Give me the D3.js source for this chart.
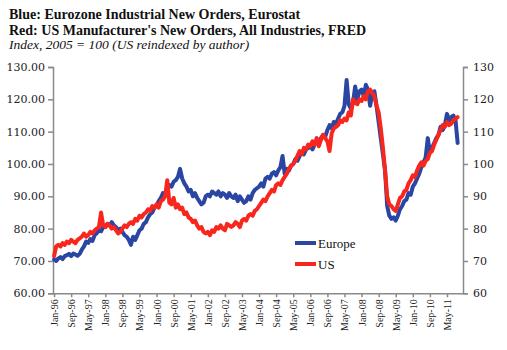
<!DOCTYPE html>
<html><head><meta charset="utf-8">
<script src="https://cdn.jsdelivr.net/npm/d3@7"></script>
<style>body{margin:0;background:#fff}svg{display:block}</style>
</head><body>
<script>
// Monthly data Jan-96 .. Oct-11
const startYear = 1996;
const europe = [
70.5,70.0,70.8,71.2,70.6,71.5,71.8,72.2,71.5,72.3,72.0,71.6,
72.2,73.5,74.5,76.0,75.6,76.8,76.2,78.0,78.6,79.5,79.2,80.5,
80.5,81.5,81.0,82.0,81.0,80.5,79.5,80.0,79.0,78.0,77.5,76.5,
75.0,77.5,76.5,78.0,79.5,80.0,81.5,82.0,83.5,84.5,85.0,86.5,
87.0,88.5,89.5,91.0,90.5,92.5,93.5,93.0,94.5,95.0,96.0,98.5,
95.5,94.0,93.0,91.5,92.0,90.0,91.0,89.5,88.5,87.5,88.0,90.0,
90.5,90.0,91.5,91.0,90.5,91.5,90.0,91.0,90.5,89.5,91.0,90.0,
89.5,90.5,88.5,90.0,89.0,88.0,88.5,90.0,89.0,91.0,92.0,92.5,
93.0,94.0,93.0,95.5,96.0,95.5,97.0,97.5,96.5,98.0,99.0,102.5,
97.0,98.5,98.0,99.5,100.0,101.5,101.0,102.5,103.5,103.0,104.5,105.0,
105.5,104.5,106.0,107.0,106.5,108.0,109.0,108.5,110.5,112.0,111.0,113.0,
112.5,114.0,115.5,116.0,118.0,126.0,118.5,117.0,119.0,124.0,120.0,122.5,
123.0,121.0,124.5,123.0,118.0,121.5,122.5,118.0,113.0,108.0,103.0,98.0,
87.0,84.0,83.0,83.5,82.5,84.0,86.0,87.0,88.5,89.0,91.0,90.5,
93.0,94.0,95.5,97.0,99.0,100.5,102.0,108.0,103.5,105.0,106.5,108.0,
109.0,111.5,110.5,112.0,115.5,113.5,114.5,115.0,113.5,106.5
];
const us = [
71.5,74.5,75.0,74.5,75.5,75.0,76.0,75.5,76.5,76.0,75.5,76.5,
77.0,77.5,78.5,77.5,78.0,79.0,78.5,79.5,80.0,80.5,85.0,81.0,
80.5,81.5,81.0,80.0,80.5,79.5,78.5,79.0,80.0,81.0,80.5,81.5,
82.0,81.5,83.0,82.5,84.0,83.5,84.5,85.0,86.0,85.5,87.0,86.5,
87.5,86.5,88.5,89.0,90.0,95.0,88.0,87.5,89.5,86.5,87.5,86.0,
86.5,84.5,85.0,83.5,83.0,82.0,82.5,81.0,80.0,80.5,79.0,78.5,
79.0,78.0,79.5,79.0,80.5,80.0,81.0,80.0,79.5,81.5,81.0,80.5,
81.0,82.0,81.5,80.5,82.5,83.0,82.5,84.0,84.5,84.0,85.5,86.0,
87.0,88.0,89.0,88.5,90.0,91.0,92.0,91.5,93.5,94.0,93.5,95.0,
96.0,97.0,98.5,99.5,100.0,101.0,102.5,104.0,103.0,105.0,104.5,106.0,
105.5,107.0,106.0,108.0,105.5,107.5,109.0,108.0,107.0,104.0,109.5,111.0,
111.5,112.0,113.5,113.0,114.0,113.5,116.0,115.0,120.0,119.0,118.5,120.0,
119.5,121.0,120.0,122.5,123.0,122.0,121.0,118.0,116.0,111.0,105.0,98.0,
90.0,87.5,87.0,86.0,85.5,87.5,89.5,90.0,91.5,92.0,94.0,95.0,
96.5,96.0,98.0,99.5,100.5,99.5,101.0,101.5,103.5,104.0,106.0,107.5,
109.0,110.5,112.0,111.5,113.0,112.0,112.5,113.5,114.0,114.5
];
const monthNames = ["Jan","Feb","Mar","Apr","May","Jun","Jul","Aug","Sep","Oct","Nov","Dec"];
const tickStep = 8; // months between axis labels
const yTicksLeft = [60,70,80,90,100,110,120,130];
const titleLines = [
  "Blue:  Eurozone Industrial New Orders, Eurostat",
  "Red:  US Manufacturer's New Orders, All Industries, FRED"
];
const subtitle = "Index, 2005 = 100 (US reindexed by author)";
const seriesNames = ["Europe","US"];
const colors = ["#2a46a2","#f8261c"];

const W = 507, H = 350;
const svg = d3.select("body").append("svg").attr("width", W).attr("height", H);

const label = i => monthNames[i % 12] + "-" + String((startYear + Math.floor(i / 12)) % 100).padStart(2, "0");

const x = d3.scaleLinear().domain([-0.5, 191.5]).range([53, 463]);
const y = d3.scaleLinear().domain([60, 130]).range([293.3, 67]);

const axisColor = "#8a8a8a";

// Left axis
const gL = svg.append("g").attr("transform", "translate(53,0)")
  .call(d3.axisLeft(y).tickValues(yTicksLeft).tickFormat(d3.format(".2f")).tickSizeOuter(0).tickSize(5));
gL.selectAll("text").attr("font-family", "DejaVu Serif").attr("font-size", 11).attr("fill", "#222").attr("x", -8);

// Right axis
const gR = svg.append("g").attr("transform", "translate(463,0)")
  .call(d3.axisRight(y).tickValues(yTicksLeft).tickFormat(d3.format("d")).tickSizeOuter(0).tickSize(5));
gR.selectAll("text").attr("font-family", "DejaVu Serif").attr("font-size", 11).attr("fill", "#222").attr("x", 10);

// Bottom axis
const tickIdx = d3.range(0, europe.length, tickStep);
const gB = svg.append("g").attr("transform", "translate(0,293.3)")
  .call(d3.axisBottom(x).tickValues(tickIdx).tickFormat(label).tickSizeOuter(0).tickSize(4));
gB.selectAll("text")
  .attr("font-family", "Liberation Serif").attr("font-size", 10).attr("fill", "#222")
  .attr("transform", "rotate(-90)").attr("text-anchor", "end")
  .attr("x", -6).attr("y", 0).attr("dy", "0.35em");
gB.select(".domain").attr("d", "M53,0.5H463");

[gL, gR, gB].forEach(g => {
  g.selectAll("path,line").attr("stroke", axisColor).attr("stroke-width", 1.5);
});

// Lines
const line = d3.line().x((d, i) => x(i)).y(d => y(d));
[europe, us].forEach((s, k) => {
  svg.append("path").datum(s).attr("d", line)
    .attr("fill", "none").attr("stroke", colors[k]).attr("stroke-width", 4)
    .attr("stroke-linejoin", "round").attr("stroke-linecap", "round");
});

// Legend
const legY = [243, 264];
seriesNames.forEach((n, k) => {
  svg.append("line").attr("x1", 295).attr("x2", 316).attr("y1", legY[k]).attr("y2", legY[k])
    .attr("stroke", colors[k]).attr("stroke-width", 4);
  svg.append("text").attr("x", 318).attr("y", legY[k]).attr("dy", "0.35em")
    .attr("font-family", "Liberation Serif").attr("font-size", 13).attr("fill", "#111").text(n);
});

// Titles
titleLines.forEach((t, k) => {
  svg.append("text").attr("x", 9).attr("y", 19 + 16 * k)
    .attr("font-family", "Liberation Serif").attr("font-weight", "bold").attr("font-size", 14)
    .attr("fill", "#111").text(t);
});
svg.append("text").attr("x", 9).attr("y", 49)
  .attr("font-family", "Liberation Serif").attr("font-style", "italic").attr("font-size", 13.5)
  .attr("fill", "#111").text(subtitle);
</script>
</body></html>
